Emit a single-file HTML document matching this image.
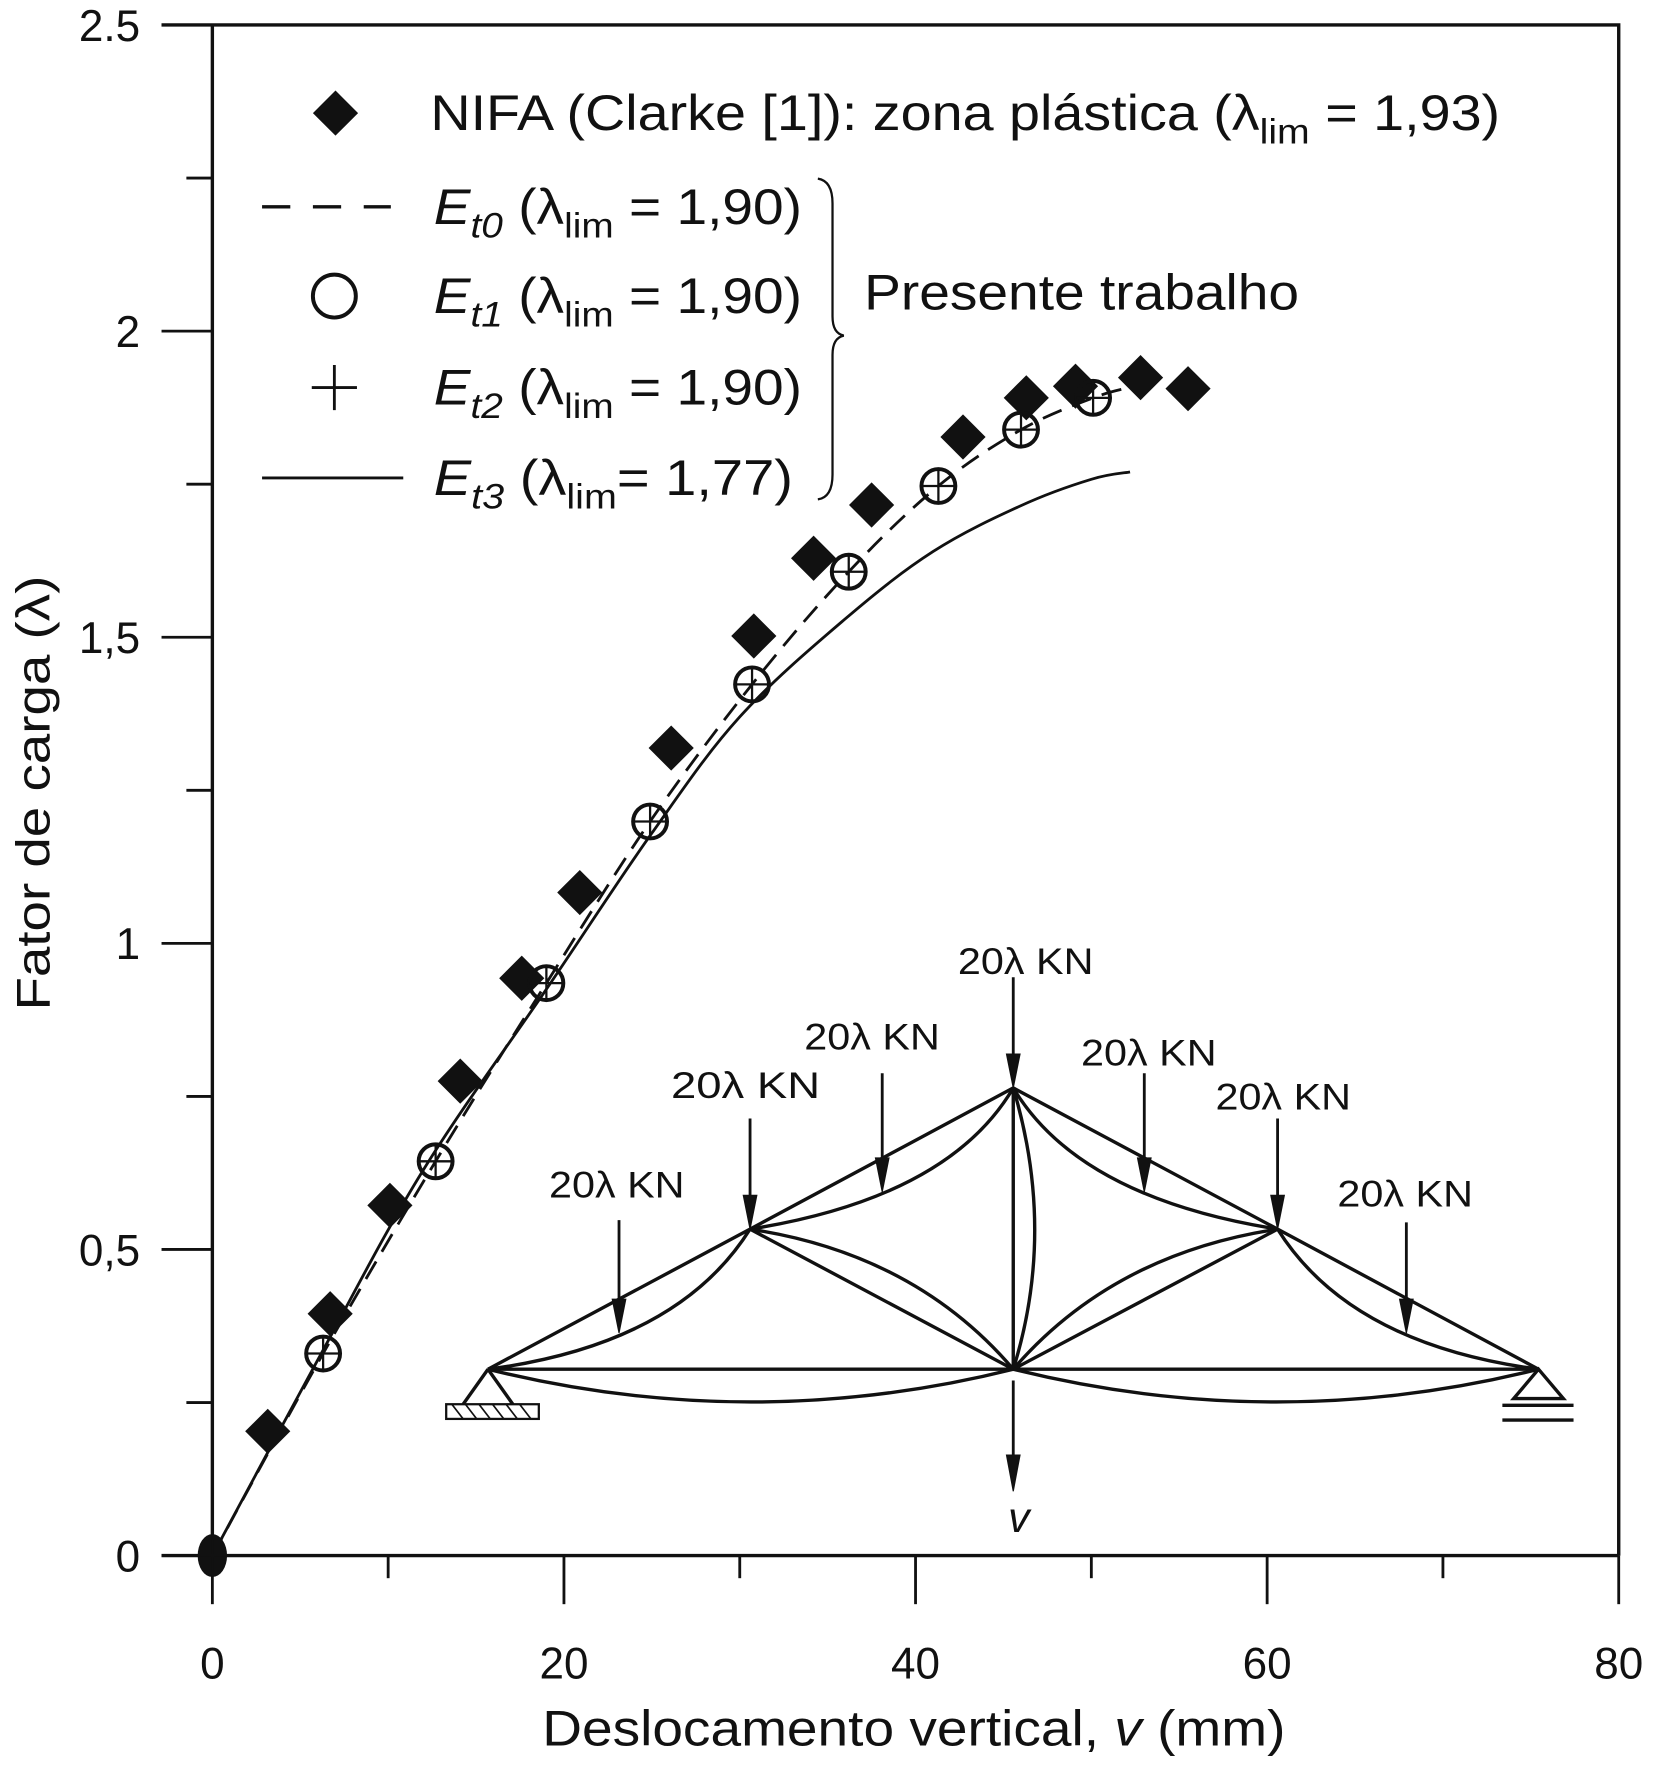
<!DOCTYPE html>
<html><head><meta charset="utf-8"><style>
html,body{margin:0;padding:0;background:#fff}
svg{display:block;font-family:"Liberation Sans",sans-serif}
</style></head><body>
<svg id="chart" width="1656" height="1776" viewBox="0 0 1466 1572" xmlns="http://www.w3.org/2000/svg">
<g id="axes"></g>
<g id="series"></g>
<g id="legend" fill="#111">
  <path d="M297 80 L317 100 L297 120 L277 100 Z" fill="#111"/>
  <text x="381" y="115" font-size="44" textLength="947" lengthAdjust="spacingAndGlyphs">NIFA (Clarke [1]): zona plástica (λ<tspan font-size="31" dy="12">lim</tspan><tspan dy="-12"> = 1,93)</tspan></text>
  <line x1="232" y1="183" x2="346" y2="183" stroke="#111" stroke-width="3" stroke-dasharray="25,20"/>
  <text x="384" y="198" font-size="44" textLength="326" lengthAdjust="spacingAndGlyphs"><tspan font-style="italic">E</tspan><tspan font-style="italic" font-size="31" dy="12">t0</tspan><tspan dy="-12"> (λ</tspan><tspan font-size="31" dy="12">lim</tspan><tspan dy="-12"> = 1,90)</tspan></text>
  <circle cx="296" cy="262" r="19" fill="none" stroke="#111" stroke-width="3.5"/>
  <text x="384" y="277" font-size="44" textLength="326" lengthAdjust="spacingAndGlyphs"><tspan font-style="italic">E</tspan><tspan font-style="italic" font-size="31" dy="12">t1</tspan><tspan dy="-12"> (λ</tspan><tspan font-size="31" dy="12">lim</tspan><tspan dy="-12"> = 1,90)</tspan></text>
  <path d="M276 343 H316 M296 323 V363" stroke="#111" stroke-width="2.5"/>
  <text x="384" y="358" font-size="44" textLength="326" lengthAdjust="spacingAndGlyphs"><tspan font-style="italic">E</tspan><tspan font-style="italic" font-size="31" dy="12">t2</tspan><tspan dy="-12"> (λ</tspan><tspan font-size="31" dy="12">lim</tspan><tspan dy="-12"> = 1,90)</tspan></text>
  <line x1="232" y1="423" x2="357" y2="423" stroke="#111" stroke-width="2.5"/>
  <text x="384" y="438" font-size="44" textLength="318" lengthAdjust="spacingAndGlyphs"><tspan font-style="italic">E</tspan><tspan font-style="italic" font-size="31" dy="12">t3</tspan><tspan dy="-12"> (λ</tspan><tspan font-size="31" dy="12">lim</tspan><tspan dy="-12">= 1,77)</tspan></text>
  <path d="M724 158 Q737 160 737 180 L737 280 Q737 295 747 297 Q737 299 737 314 L737 420 Q737 440 724 442" fill="none" stroke="#111" stroke-width="2"/>
  <text x="765" y="274" font-size="44" textLength="385" lengthAdjust="spacingAndGlyphs">Presente trabalho</text>
</g>
<g id="truss" fill="none" stroke="#111" stroke-width="3"></g>
</svg>
<script>
const xTicks=[0,20,40,60,80];
const yTicks=[0,0.5,1,1.5,2,2.5];
const yTickLabels=["0","0,5","1","1,5","2","2.5"];
const nifaX=[3.15,6.7,10.1,14.1,17.6,20.9,26.1,30.8,34.2,37.5,42.7,46.3,49.1,52.8,55.5];
const nifaY=[0.203,0.395,0.572,0.775,0.943,1.083,1.319,1.502,1.629,1.716,1.827,1.891,1.910,1.924,1.906];
const et1X=[0,6.3,12.7,19.0,24.9,30.7,36.2,41.3,46.0,50.1];
const et1Y=[0,0.330,0.644,0.935,1.199,1.423,1.607,1.747,1.839,1.891];
const et0X=[0,6.3,12.7,19.0,24.9,30.7,36.2,41.3,46.0,50.1,52.5];
const et0Y=[0,0.330,0.644,0.935,1.199,1.423,1.607,1.747,1.839,1.891,1.91];
const et3X=[0,6,12,19,25,30,36,41,46,50,52.2];
const et3Y=[0,0.32,0.63,0.925,1.18,1.37,1.53,1.64,1.715,1.758,1.77];

const NS="http://www.w3.org/2000/svg";
const X=v=>188+v*(1433-188)/80;
const Y=v=>1377-v*(1377-22)/2.5;
function mk(parent,tag,attrs){const e=document.createElementNS(NS,tag);for(const k in attrs)e.setAttribute(k,attrs[k]);parent.appendChild(e);return e;}
function smooth(xs,ys){const p=xs.map((x,i)=>[X(x),Y(ys[i])]);let d=`M${p[0][0]} ${p[0][1]}`;
 for(let i=0;i < p.length-1;i++){const p0=p[i-1]||p[i],p1=p[i],p2=p[i+1],p3=p[i+2]||p2;
  const c1=[p1[0]+(p2[0]-p0[0])/6,p1[1]+(p2[1]-p0[1])/6],c2=[p2[0]-(p3[0]-p1[0])/6,p2[1]-(p3[1]-p1[1])/6];
  d+=` C${c1[0].toFixed(1)} ${c1[1].toFixed(1)} ${c2[0].toFixed(1)} ${c2[1].toFixed(1)} ${p2[0].toFixed(1)} ${p2[1].toFixed(1)}`;}
 return d;}
const axes=document.getElementById('axes');
let e;
e=mk(axes,'path',{d:`M188 22 V1377 M143 22 H1433 V1377 M143 1377 H1433`,stroke:'#111','stroke-width':3,fill:'none'});


for(let v=0;v <= 2.5001;v+=0.25){const major=Math.abs(v*2-Math.round(v*2)) < 1e-6;
 e=mk(axes,'line',{x1:major?143:165,x2:188,y1:Y(v),y2:Y(v),stroke:'#111','stroke-width':2.5});
 
 }
yTicks.forEach((v,i)=>{e=mk(axes,'text',{x:124,y:Y(v)+14,'text-anchor':'end','font-size':39,fill:'#111'});e.textContent=yTickLabels[i];
 
 });
for(let v=0;v <= 80;v+=10){const major=v%20===0;
 e=mk(axes,'line',{x1:X(v),x2:X(v),y1:1377,y2:major?1420:1397,stroke:'#111','stroke-width':2.5});
 
 }
xTicks.forEach(v=>{e=mk(axes,'text',{x:X(v),y:1486,'text-anchor':'middle','font-size':39,fill:'#111'});e.textContent=v;
 
 });
e=mk(axes,'text',{x:480,y:1545,'font-size':44,fill:'#111',textLength:658,lengthAdjust:'spacingAndGlyphs'});


e.appendChild(document.createTextNode('Deslocamento vertical, '));
let ts=mk(e,'tspan',{'font-style':'italic'});ts.textContent='v';
e.appendChild(document.createTextNode(' (mm)'));
e=mk(axes,'text',{x:0,y:0,transform:'translate(44 702) rotate(-90)','text-anchor':'middle','font-size':42,fill:'#111',textLength:385,lengthAdjust:'spacingAndGlyphs'});
e.textContent='Fator de carga (λ)';



const s=document.getElementById('series');
e=mk(s,'path',{d:smooth(et3X,et3Y),fill:'none',stroke:'#111','stroke-width':2.5});


e=mk(s,'path',{d:smooth(et0X,et0Y),fill:'none',stroke:'#111','stroke-width':2.5,'stroke-dasharray':'18,10'});


nifaX.forEach((x,i)=>{const cx=X(x),cy=Y(nifaY[i]);
 e=mk(s,'path',{d:`M${cx} ${cy-20} L${cx+20} ${cy} L${cx} ${cy+20} L${cx-20} ${cy} Z`,fill:'#111'});
 
 });
et1X.forEach((x,i)=>{const cx=X(x),cy=Y(et1Y[i]);
 if(i===0){e=mk(s,'ellipse',{cx:cx,cy:cy,rx:13,ry:19,fill:'#111'});}
 else{e=mk(s,'circle',{cx:cx,cy:cy,r:15,fill:'none',stroke:'#111','stroke-width':3.5});}
 
 
 e=mk(s,'path',{d:`M${cx-15} ${cy} H${cx+15} M${cx} ${cy-15} V${cy+15}`,stroke:'#111','stroke-width':2});
 
 });

const t=document.getElementById('truss');
const trussPaths=[
 'M432 1212 L664 1088 L897 963 L1131 1088 L1362 1212 Z',
 'M664 1088 L897 1212 L1131 1088 M897 963 V1212',
 'M432 1212 Q600 1190 664 1088','M664 1088 Q840 1060 897 963','M897 963 Q955 1060 1131 1088','M1131 1088 Q1195 1190 1362 1212',
 'M664 1088 Q810 1110 897 1212','M1131 1088 Q985 1110 897 1212','M897 963 Q935 1090 897 1212',
 'M432 1212 Q665 1270 897 1212','M897 1212 Q1130 1270 1362 1212',
 'M432 1212 L410 1243 M432 1212 L454 1243','M1362 1212 L1340 1238 H1384 Z',
 'M1330 1244 H1393 M1330 1257 H1393'];
trussPaths.forEach(d=>{e=mk(t,'path',{d:d});
 
 });
e=mk(t,'rect',{x:395,y:1243,width:82,height:13,'stroke-width':2});


e=mk(t,'path',{d:'M400 1243 L410 1256 M412 1243 L422 1256 M424 1243 L434 1256 M436 1243 L446 1256 M448 1243 L458 1256 M460 1243 L470 1256','stroke-width':1.5});


const loads=[[548,1080,1180,486,1060],[664,990,1088,594,972],[781,950,1055,712,929],[897,865,963,848,862],[1013,950,1055,957,943],[1131,990,1088,1076,982],[1245,1082,1180,1184,1068]];
loads.forEach(([x,y1,y2,tx,ty],i)=>{
 e=mk(t,'line',{x1:x,y1:y1,x2:x,y2:y2-20,'stroke-width':2.5});
 
 
 e=mk(t,'path',{d:`M${x-6} ${y2-30} L${x+6} ${y2-30} L${x} ${y2} Z`,fill:'#111','stroke-width':1});
 
 
 e=mk(t,'text',{x:tx,y:ty,'font-size':33,fill:'#111',stroke:'none',textLength:i===1?132:120,lengthAdjust:'spacingAndGlyphs'});
 e.textContent=i===1?'20λ  KN':'20λ KN';
 
 });
e=mk(t,'line',{x1:897,y1:1222,x2:897,y2:1290,'stroke-width':2.5});


e=mk(t,'path',{d:'M891 1288 L903 1288 L897 1320 Z',fill:'#111','stroke-width':1});


e=mk(t,'text',{x:902,y:1356,'font-size':38,'font-style':'italic','text-anchor':'middle',fill:'#111',stroke:'none'});
e.textContent='v';


</script>
</body></html>
